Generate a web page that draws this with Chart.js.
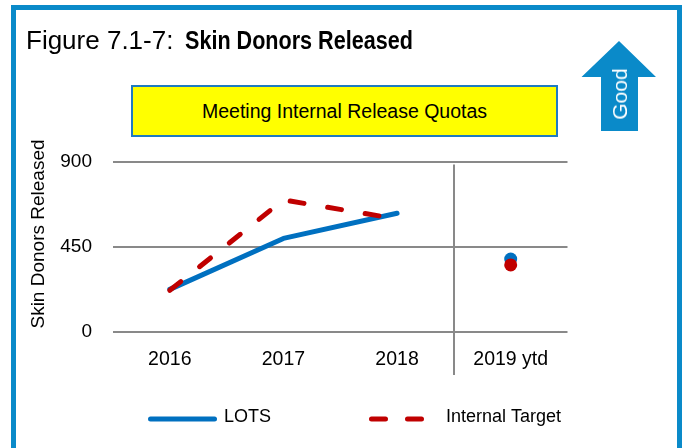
<!DOCTYPE html>
<html>
<head>
<meta charset="utf-8">
<script src="https://cdn.jsdelivr.net/npm/chart.js@4.4.1/dist/chart.umd.min.js"></script>
<style>
  html, body { margin: 0; padding: 0; background: #fff; overflow: hidden; }
  #wrap { position: relative; width: 686px; height: 448px; overflow: hidden; font-family: "Liberation Sans", Arial, sans-serif; color: #000; }
  #frame { position: absolute; left: 11px; top: 5px; width: 661px; height: 470px; border: 5px solid #0a8ac9; }
  #chart { position: absolute; left: 0; top: 0; }
  .title { position: absolute; top: 27px; font-size: 26px; line-height: 26px; white-space: nowrap; }
  #titleReg { left: 26px; }
  #titleBold { left: 185px; font-weight: bold; transform: scaleX(0.83); transform-origin: left center; }
  #banner { position: absolute; left: 131px; top: 85px; width: 423px; height: 48px; border: 2px solid #1f7bc0; background: #ffff00;
            display: flex; align-items: center; justify-content: center; font-size: 19.5px; }
  #yTitle { position: absolute; left: 37.5px; top: 234px; font-size: 19px; white-space: nowrap; transform: translate(-50%, -50%) rotate(-90deg); }
  #arrow { position: absolute; left: 0; top: 0; }
  #good { position: absolute; left: 619.5px; top: 93.5px; font-size: 21px; color: #fff; white-space: nowrap; transform: translate(-50%, -50%) rotate(-90deg); }
</style>
</head>
<body>
<div id="wrap">
  <canvas id="chart" width="686" height="448"></canvas>
  <div id="frame"></div>
  <div class="title" id="titleReg">Figure 7.1-7:</div>
  <div class="title" id="titleBold">Skin Donors Released</div>
  <div id="banner">Meeting Internal Release Quotas</div>
  <div id="yTitle">Skin Donors Released</div>
  <svg id="arrow" width="686" height="448"><polygon points="619,41 656,77 638,77 638,131 601,131 601,77 581.5,77" fill="#0a8ac9"/></svg>
  <div id="good">Good</div>
</div>
<script>
// chart data
const years = ['2016', '2017', '2018', '2019 ytd'];
const lots = [225, 494, 627, 385];
const internalTarget = [220, 697, 597, 354];
const yTicks = [0, 450, 900];

const lotsColor = '#0070c0';
const targetColor = '#c00000';
const gridColor = '#898989';

Chart.defaults.font.family = '"Liberation Sans", Arial, sans-serif';
Chart.defaults.color = '#000';

// 2019 ytd is a lone dot, so hide the segment leading into it
function hideLast(ctx) {
    return ctx.p1DataIndex === years.length - 1 ? 'rgba(0,0,0,0)' : undefined;
}

const extras = {
    id: 'extras',
    beforeDatasetsDraw(chart) {
        const ctx = chart.ctx;
        const xs = chart.scales.x;
        const area = chart.chartArea;
        const sepX = (xs.getPixelForValue(2) + xs.getPixelForValue(3)) / 2;
        ctx.save();
        ctx.strokeStyle = gridColor;
        ctx.lineWidth = 2;
        ctx.beginPath();
        ctx.moveTo(Math.round(sepX), area.top + 3);
        ctx.lineTo(Math.round(sepX), 375);
        ctx.stroke();
        ctx.restore();
    },
    afterDraw(chart) {
        const ctx = chart.ctx;
        const sets = chart.data.datasets;
        const items = [
            { ds: sets[0], x1: 150.5, x2: 214.5, tx: 224 },
            { ds: sets[1], x1: 371.5, x2: 421.5, tx: 446 }
        ];
        items.forEach(it => {
            ctx.save();
            ctx.strokeStyle = it.ds.borderColor;
            ctx.lineWidth = it.ds.borderWidth;
            ctx.lineCap = 'round';
            ctx.setLineDash(it.ds.borderDash ? [14, 22] : []);
            ctx.beginPath();
            ctx.moveTo(it.x1, 419);
            ctx.lineTo(it.x2, 419);
            ctx.stroke();
            ctx.restore();
            ctx.save();
            ctx.fillStyle = '#000';
            ctx.font = '18px "Liberation Sans", Arial, sans-serif';
            ctx.textBaseline = 'middle';
            ctx.fillText(it.ds.label, it.tx, 417);
            ctx.restore();
        });
    }
};

new Chart(document.getElementById('chart'), {
    type: 'line',
    data: {
        labels: years,
        datasets: [{
            label: 'LOTS',
            data: lots,
            borderColor: lotsColor,
            backgroundColor: lotsColor,
            borderWidth: 5,
            borderCapStyle: 'round',
            borderJoinStyle: 'round',
            pointRadius: [0, 0, 0, 6.5],
            pointHoverRadius: [0, 0, 0, 6.5],
            pointBackgroundColor: lotsColor,
            pointBorderWidth: 0,
            segment: { borderColor: hideLast },
            order: 2
        }, {
            label: 'Internal Target',
            data: internalTarget,
            borderColor: targetColor,
            backgroundColor: targetColor,
            borderWidth: 5,
            borderDash: [14, 24],
            borderCapStyle: 'round',
            borderJoinStyle: 'round',
            pointRadius: [0, 0, 0, 6.5],
            pointHoverRadius: [0, 0, 0, 6.5],
            pointBackgroundColor: targetColor,
            pointBorderWidth: 0,
            segment: { borderColor: hideLast },
            order: 1
        }]
    },
    options: {
        responsive: false,
        animation: false,
        layout: { padding: { left: 0, right: 118.5, top: 161.5, bottom: 66 } },
        plugins: {
            legend: { display: false },
            tooltip: { enabled: false }
        },
        scales: {
            x: {
                offset: true,
                grid: { display: false, drawTicks: false },
                border: { display: false },
                ticks: { font: { size: 19.5 }, padding: 16, maxRotation: 0 },
                afterFit(s) { s.height = 50; }
            },
            y: {
                min: 0,
                max: 900,
                afterBuildTicks(s) { s.ticks = yTicks.map(v => ({ value: v })); },
                grid: { color: gridColor, lineWidth: 2, drawTicks: false },
                border: { display: false },
                ticks: { font: { size: 19 }, padding: 21 },
                afterFit(s) { s.width = 113; }
            }
        }
    },
    plugins: [extras]
});
</script>
</body>
</html>
